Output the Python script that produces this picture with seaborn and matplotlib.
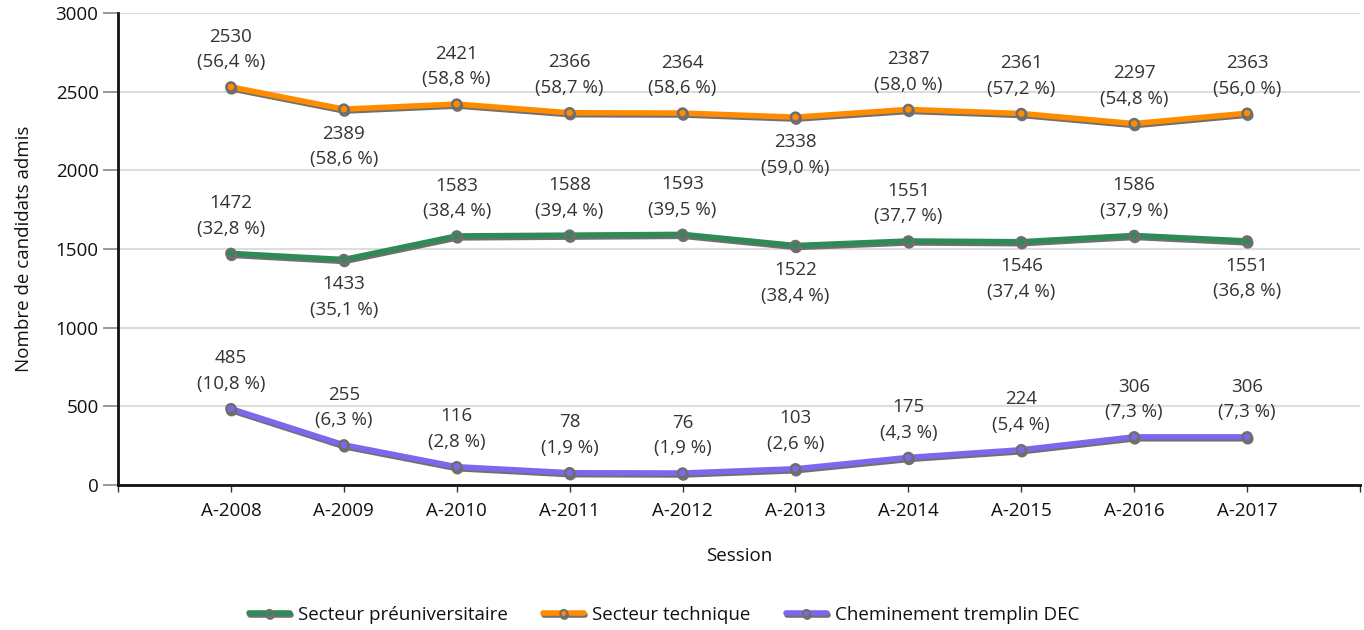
import pandas as pd
import matplotlib
matplotlib.use("Agg")
import matplotlib.pyplot as plt
import matplotlib.patheffects as pe
from matplotlib.lines import Line2D
import seaborn as sns

sessions = ['A-2008', 'A-2009', 'A-2010', 'A-2011', 'A-2012',
            'A-2013', 'A-2014', 'A-2015', 'A-2016', 'A-2017']
preu = [1472, 1433, 1583, 1588, 1593, 1522, 1551, 1546, 1586, 1551]
preu_pct = ['32,8', '35,1', '38,4', '39,4', '39,5', '38,4', '37,7', '37,4', '37,9', '36,8']
tech = [2530, 2389, 2421, 2366, 2364, 2338, 2387, 2361, 2297, 2363]
tech_pct = ['56,4', '58,6', '58,8', '58,7', '58,6', '59,0', '58,0', '57,2', '54,8', '56,0']
tremplin = [485, 255, 116, 78, 76, 103, 175, 224, 306, 306]
tremplin_pct = ['10,8', '6,3', '2,8', '1,9', '1,9', '2,6', '4,3', '5,4', '7,3', '7,3']

series_names = ['Secteur préuniversitaire', 'Secteur technique', 'Cheminement tremplin DEC']
colors = ['#2e8b57', '#ff8c00', '#7b68ee']
# label side: 1 above, -1 below
preu_side = [1, -1, 1, 1, 1, -1, 1, -1, 1, -1]
tech_side = [1, -1, 1, 1, 1, -1, 1, 1, 1, 1]
tremplin_side = [1] * 10

sns.set_theme(style='white')
plt.rcParams['font.family'] = ['Open Sans', 'DejaVu Sans']

rows = []
for name, vals in zip(series_names, [preu, tech, tremplin]):
    for i, v in enumerate(vals):
        rows.append({'pos': i, 'value': v, 'serie': name})
df = pd.DataFrame(rows)

fig = plt.figure(figsize=(13.64, 6.3), dpi=100)
ax = fig.add_axes([118 / 1364, 1 - 485 / 630, (1360 - 118) / 1364, (485 - 13) / 630])

shadow = [pe.SimpleLineShadow(offset=(0.5, -1.4), shadow_color='#707070', alpha=1.0), pe.Normal()]
sns.lineplot(data=df, x='pos', y='value', hue='serie', palette=dict(zip(series_names, colors)),
             linewidth=4, marker='o', markersize=6.5, markeredgecolor='#6e6e6e',
             markeredgewidth=1.8, legend=False, ax=ax, sort=False)
for line in ax.get_lines():
    line.set_path_effects(shadow)

text_col = '#333333'
fs = 13.5
for vals, pcts, sides in [(preu, preu_pct, preu_side), (tech, tech_pct, tech_side),
                          (tremplin, tremplin_pct, tremplin_side)]:
    for i, (v, p, s) in enumerate(zip(vals, pcts, sides)):
        ax.annotate(f'{v}\n({p} %)', (i, v), xytext=(0, 27 * s), textcoords='offset points',
                    ha='center', va='center', fontsize=fs, color=text_col, linespacing=1.55)

ax.set_xlim(-1, 10)
ax.set_ylim(0, 3000)
ax.set_yticks([0, 500, 1000, 1500, 2000, 2500, 3000])
ax.set_xticks(range(-1, 11))
ax.set_xticklabels([''] + sessions + [''])
ax.grid(axis='y', color='#dddddd', linewidth=1.5)
ax.set_axisbelow(True)
for sp in ['top', 'right']:
    ax.spines[sp].set_visible(False)
ax.spines['left'].set_color('#111111')
ax.spines['left'].set_linewidth(2)
ax.spines['bottom'].set_color('#111111')
ax.spines['bottom'].set_linewidth(2)
ax.tick_params(axis='y', left=True, length=11, width=1.2, color='#888888', labelsize=fs,
               labelcolor='#111111', pad=3)
ax.tick_params(axis='x', bottom=True, length=5, width=1, color='#333333', labelsize=fs,
               labelcolor='#111111', pad=7)
ax.set_xlabel('Session', fontsize=fs, color='#111111', labelpad=20)
ax.set_ylabel('Nombre de candidats admis', fontsize=fs, color='#111111', labelpad=16)

handles = [Line2D([0], [0], color=c, linewidth=4, marker='o', markersize=5,
                  markeredgecolor='#6e6e6e', markerfacecolor=c, markeredgewidth=1.5,
                  path_effects=shadow) for c in colors]
fig.legend(handles, series_names, loc='center', bbox_to_anchor=(664 / 1364, 1 - 615 / 630),
           ncol=3, frameon=False, fontsize=fs, handlelength=2.2, columnspacing=1.9,
           handletextpad=0.4, labelcolor='#111111')

fig.savefig('out.png', dpi=100)
